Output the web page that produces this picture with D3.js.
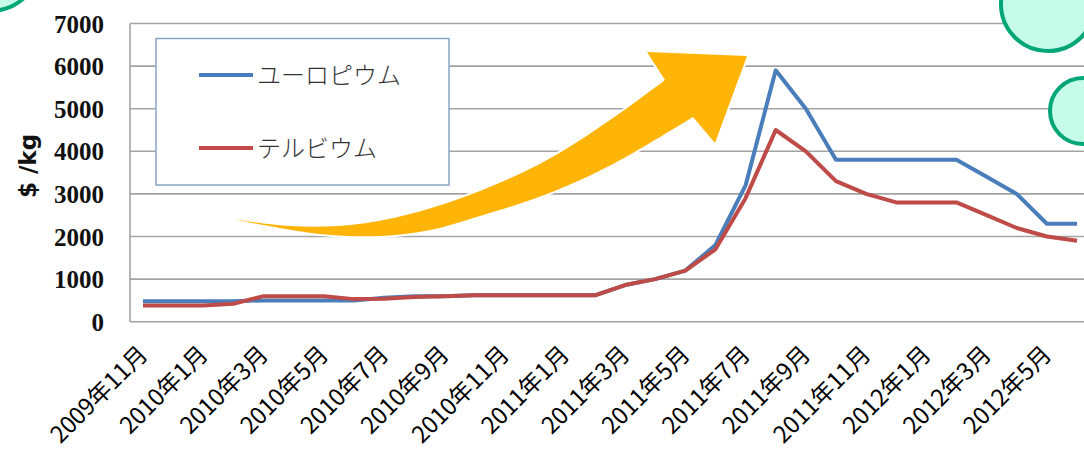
<!DOCTYPE html>
<html><head><meta charset="utf-8">
<script src="https://cdn.jsdelivr.net/npm/d3@7"></script>
<style>
html,body{margin:0;padding:0;background:#fff;}
svg{display:block;}
</style></head>
<body>
<svg id="c" width="1084" height="455"></svg>
<script>
// ---- data ----
const months = ["2009年11月","2009年12月","2010年1月","2010年2月","2010年3月","2010年4月","2010年5月","2010年6月","2010年7月","2010年8月","2010年9月","2010年10月","2010年11月","2010年12月","2011年1月","2011年2月","2011年3月","2011年4月","2011年5月","2011年6月","2011年7月","2011年8月","2011年9月","2011年10月","2011年11月","2011年12月","2012年1月","2012年2月","2012年3月","2012年4月","2012年5月","2012年6月"];
const europium = [480,480,480,480,500,500,500,500,560,600,600,620,620,620,620,620,860,1000,1200,1800,3200,5900,5000,3800,3800,3800,3800,3800,3400,3000,2300,2300];
const terbium  = [380,380,380,420,600,600,600,530,540,580,600,620,620,620,620,620,860,1000,1200,1700,2900,4500,4000,3300,3000,2800,2800,2800,2500,2200,2000,1900];
const seriesNames = ["ユーロピウム","テルビウム"];
const yTicks = [0,1000,2000,3000,4000,5000,6000,7000];
const xTickLabels = months.filter((m,i)=>i%2===0);

const svg = d3.select("#c");
const plotLeft = 130, plotBottom = 321.7, plotTop = 23.5;
const x = d3.scalePoint().domain(months).range([143, 1077]);
const y = d3.scaleLinear().domain([0,7000]).range([plotBottom, plotTop]);

// gridlines
svg.append("g").selectAll("line").data(yTicks).join("line")
  .attr("x1", plotLeft).attr("x2", 1084)
  .attr("y1", d=>y(d)).attr("y2", d=>y(d))
  .attr("stroke", "#a3a3a3").attr("stroke-width", 1.6);
// left axis line
svg.append("line").attr("x1",plotLeft).attr("x2",plotLeft).attr("y1",plotTop).attr("y2",plotBottom)
  .attr("stroke","#a3a3a3").attr("stroke-width",1.6);

// y axis labels
const yAxis = d3.axisLeft(y).tickValues(yTicks).tickSize(0).tickPadding(0).tickFormat(d3.format("d"));
const gy = svg.append("g").attr("transform", `translate(104,0)`).call(yAxis);
gy.select(".domain").remove();
gy.selectAll("text").attr("font-family","'Liberation Serif', serif").attr("font-weight","bold")
  .attr("font-size", 25).attr("fill","#111").attr("dy","0.34em");

// y title
svg.append("text").attr("transform","translate(36,166) rotate(-90)")
  .attr("text-anchor","middle").attr("font-family","'DejaVu Sans', sans-serif")
  .attr("font-weight","bold").attr("font-size",23).attr("fill","#111").text("$ /kg");

// x labels
const xAxis = d3.axisBottom(x).tickValues(xTickLabels).tickSize(0).tickPadding(0);
const gx = svg.append("g").call(xAxis);
gx.select(".domain").remove();
gx.selectAll(".tick").attr("transform", d=>`translate(${x(d)+6},356)`);
gx.selectAll("text").attr("transform","rotate(-45)").attr("text-anchor","end")
  .attr("x",0).attr("y",0).attr("dy",0)
  .attr("font-family","'Noto Sans CJK JP', sans-serif").attr("font-size",23.5)
  .attr("font-weight",400).attr("fill","#000");

// lines
const colors = ["#4a7ebb","#be4b48"];
const lineGen = d3.line().x((d,i)=>x(months[i])).y(d=>y(d));
[europium, terbium].forEach((s,k)=>{
  svg.append("path").attr("d", lineGen(s)).attr("fill","none")
    .attr("stroke", colors[k]).attr("stroke-width",4).attr("stroke-linejoin","round");
});

// legend
const lg = svg.append("g");
lg.append("rect").attr("x",156).attr("y",38.5).attr("width",293).attr("height",146.5)
  .attr("fill","#fff").attr("stroke","#8aa4c6").attr("stroke-width",1.5);
[75,148].forEach((ly,k)=>{
  lg.append("line").attr("x1",199).attr("x2",253).attr("y1",ly).attr("y2",ly)
    .attr("stroke",colors[k]).attr("stroke-width",4);
  lg.append("text").attr("x",257).attr("y",ly).attr("dy","0.36em")
    .attr("font-family","'Noto Sans CJK JP', sans-serif").attr("font-size",24)
    .attr("font-weight",300).attr("fill","#333").text(seriesNames[k]);
});

// arrow decoration
const upperEdge = [[232,219],[290,226],[350,225],[410,214],[480,191],[547,160],[613,118],[665,80]];
const lowerEdge = [[693,117],[613,164],[547,194],[480,216],[430,230],[380,236],[320,234],[232,219]];
const cr = d3.line().curve(d3.curveCatmullRom.alpha(0.5));
const arrowD = cr(upperEdge) + " L647,52 L747,56 L715,143 L693,117 " + cr(lowerEdge).replace(/^M/,"L") + " Z";
svg.append("path").attr("d", arrowD).attr("fill","#ffb508")
  .attr("stroke","#fff").attr("stroke-width",4).attr("stroke-linejoin","miter").attr("paint-order","stroke");

// circles decoration
const circ = [[-10,-40,51],[1048,4,47],[1083,111,33]];
svg.append("g").selectAll("circle").data(circ).join("circle")
  .attr("cx",d=>d[0]).attr("cy",d=>d[1]).attr("r",d=>d[2])
  .attr("fill","#c5fbe9").attr("stroke","#00a676").attr("stroke-width",4);
</script>
</body></html>
